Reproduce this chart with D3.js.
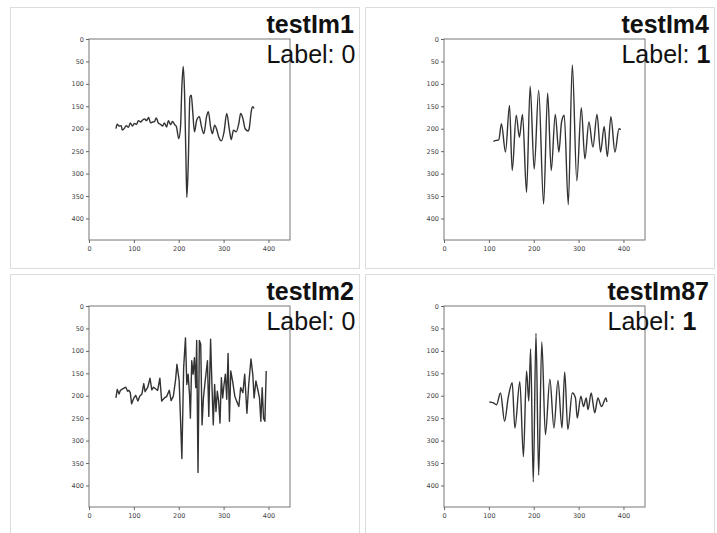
<!DOCTYPE html>
<html>
<head>
<meta charset="utf-8">
<script src="https://cdn.jsdelivr.net/npm/d3@7"></script>
<style>
  body { margin: 0; background: #fff; }
  svg { display: block; }
</style>
</head>
<body>
<div id="chart"></div>
<script>
// Panel names and labels
const names = ["testIm1", "testIm4", "testIm2", "testIm87"];
const labels = ["0", "1", "0", "1"];

// Tick labels (same for every panel)
const xTicks = [0, 100, 200, 300, 400];
const yTicks = [0, 50, 100, 150, 200, 250, 300, 350, 400];

// Signal traces, [x, y] in image pixels (y grows downward)
const sig1 = [
  [60,200],[63,190],[67,194],[72,193],[74,203],[79,199],[83,193],[88,197],[92,187],[97,194],
  [101,188],[106,190],[110,182],[115,185],[119,181],[124,178],[128,182],[133,175],[137,187],[142,185],
  [146,184],[150,176],[155,188],[159,190],[164,194],[168,187],[173,196],[177,182],[182,191],[186,184],
  [191,191],[195,196],[200,222],[204,196],[207,106],[210,61],[213,121],[216,263],[218,353],[221,286],
  [225,129],[228,125],[231,159],[235,207],[240,181],[246,173],[250,192],[256,211],[262,173],[266,162],
  [271,196],[275,211],[280,192],[285,203],[289,218],[295,227],[301,207],[307,166],[313,203],[317,224],
  [322,203],[328,207],[334,188],[338,166],[343,177],[348,200],[355,205],[357,200],[362,159],[365,151],[368,155]
];
const sig4 = [
  [110,228],[117,226],[122,225],[128,189],[137,252],[146,148],[152,293],[161,170],[168,219],[175,168],
  [184,342],[192,105],[201,290],[211,114],[222,368],[231,120],[239,293],[248,168],[256,252],[262,185],
  [268,170],[277,369],[286,58],[296,316],[306,153],[314,267],[323,185],[332,241],[341,168],[349,252],
  [357,195],[364,262],[372,173],[381,252],[390,200],[394,202]
];
const sig2 = [
  [60,205],[63,186],[67,196],[70,188],[76,184],[82,181],[86,190],[89,188],[92,193],[95,218],
  [100,205],[104,199],[109,212],[113,201],[118,196],[122,173],[125,191],[131,181],[136,161],[140,187],
  [144,181],[149,185],[153,188],[158,161],[162,212],[168,205],[173,202],[179,188],[183,211],[188,201],
  [193,164],[196,130],[201,167],[207,340],[211,137],[215,71],[218,175],[221,152],[224,197],[226,250],
  [229,122],[232,152],[235,115],[238,182],[240,77],[243,371],[246,77],[249,85],[252,265],[255,205],
  [259,167],[264,122],[267,246],[271,74],[274,175],[277,265],[280,175],[283,235],[286,190],[289,212],
  [292,261],[295,160],[298,205],[301,175],[304,152],[307,208],[310,106],[313,257],[316,145],[320,167],
  [325,201],[329,212],[334,224],[338,182],[343,193],[347,152],[352,239],[356,175],[361,118],[365,152],
  [368,205],[372,167],[377,190],[380,205],[383,257],[386,182],[389,250],[392,257],[395,145]
];
const sig87 = [
  [101,214],[110,216],[117,220],[126,194],[135,257],[143,205],[152,171],[158,272],[169,169],[177,336],
  [184,145],[189,212],[193,96],[199,392],[205,61],[211,377],[218,80],[226,287],[236,163],[245,272],
  [254,166],[263,272],[269,147],[276,275],[286,194],[293,205],[297,250],[305,201],[311,224],[317,205],
  [321,231],[328,194],[336,238],[343,205],[351,224],[361,205],[363,214]
];
const signals = [sig1, sig4, sig2, sig87];
const smooth = [true, true, false, true];

const width = 717, height = 533;
const imgSize = 448;
const plotSize = 201;

const svg = d3.select("#chart").append("svg")
    .attr("width", width)
    .attr("height", height);

// panel boxes: two columns, two rows
const cellX = [10, 365], cellY = [7, 274];
const cellW = 349, cellH = 261;

signals.forEach(function(data, i) {
    const cx = cellX[i % 2], cy = cellY[Math.floor(i / 2)];
    const h = i < 2 ? cellH : height - cy + 5;

    svg.append("rect")
        .attr("x", cx + 0.5).attr("y", cy + 0.5)
        .attr("width", cellW).attr("height", h)
        .attr("fill", "#fff")
        .attr("stroke", "#dcdcdc");

    const px = cx + 79, py = cy + 32;
    const g = svg.append("g").attr("transform", "translate(" + px + "," + py + ")");

    const x = d3.scaleLinear().domain([0, imgSize]).range([0, plotSize]);
    const y = d3.scaleLinear().domain([0, imgSize]).range([0, plotSize]);

    // frame
    g.append("rect")
        .attr("x", 0).attr("y", 0)
        .attr("width", plotSize).attr("height", plotSize)
        .attr("fill", "none")
        .attr("stroke", "#777")
        .attr("stroke-width", 1);

    const xAxis = g.append("g")
        .attr("transform", "translate(0," + plotSize + ")")
        .call(d3.axisBottom(x).tickValues(xTicks).tickSize(3).tickPadding(3));
    const yAxis = g.append("g")
        .call(d3.axisLeft(y).tickValues(yTicks).tickSize(3).tickPadding(2));
    [xAxis, yAxis].forEach(function(a) {
        a.select(".domain").remove();
        a.selectAll("line").attr("stroke", "#666");
        a.selectAll("text")
            .attr("fill", "#444")
            .style("font-family", "DejaVu Sans")
            .style("font-size", "6.5px");
    });

    const line = d3.line()
        .x(d => x(d[0]))
        .y(d => y(d[1]))
        .curve(smooth[i] ? d3.curveMonotoneX : d3.curveLinear);

    g.append("path")
        .datum(data)
        .attr("fill", "none")
        .attr("stroke", "#333")
        .attr("stroke-width", 1.4)
        .attr("stroke-linejoin", "round")
        .attr("d", line);

    // title block, right edge of the name near the plot's right side
    const title = svg.append("text")
        .attr("x", px + 265)
        .attr("y", cy + 26)
        .attr("text-anchor", "end")
        .style("font-family", "Liberation Sans, Arial, sans-serif")
        .style("font-size", "25px")
        .style("font-weight", "bold")
        .attr("fill", "#111")
        .text(names[i]);
    const tx = title.node().getBBox().x;

    const lab = svg.append("text")
        .attr("x", tx)
        .attr("y", cy + 56)
        .style("font-family", "Liberation Sans, Arial, sans-serif")
        .style("font-size", "25px")
        .attr("fill", "#111");
    lab.append("tspan").text("Label: ");
    lab.append("tspan")
        .style("font-weight", labels[i] === "1" ? "bold" : "normal")
        .text(labels[i]);
});
</script>
</body>
</html>
